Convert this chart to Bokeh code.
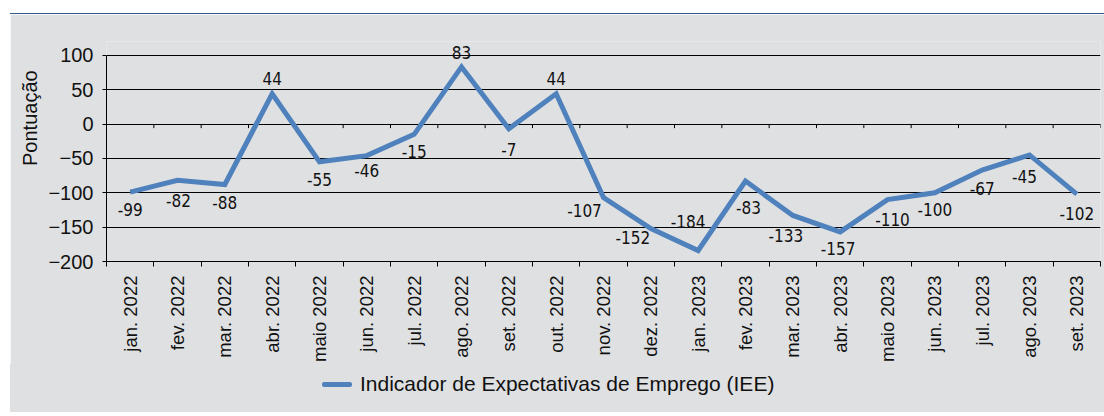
from bokeh.plotting import figure
from bokeh.models import Range1d, FixedTicker, Div, ColumnDataSource, Spacer
from bokeh.layouts import column, row
from bokeh.core.properties import value
from bokeh.embed import file_html
from bokeh.resources import INLINE
import math

# ---- data ----
months = ["jan. 2022", "fev. 2022", "mar. 2022", "abr. 2022", "maio 2022", "jun. 2022",
          "jul. 2022", "ago. 2022", "set. 2022", "out. 2022", "nov. 2022", "dez. 2022",
          "jan. 2023", "fev. 2023", "mar. 2023", "abr. 2023", "maio 2023", "jun. 2023",
          "jul. 2023", "ago. 2023", "set. 2023"]
iee = [-99, -82, -88, 44, -55, -46, -15, 83, -7, 44, -107, -152,
       -184, -83, -133, -157, -110, -100, -67, -45, -102]
y_ticks = [-200, -150, -100, -50, 0, 50, 100]
series_name = "Indicador de Expectativas de Emprego (IEE)"
y_label = "Pontuação"

# label placement (screen pixel offsets, style only)
label_dx = [0, 1, 0, 0, 0, 0, 0, 0, 0, 0, -19, -18, -10, 3, -7, -2, 5, 0, 0, -5, 0]
label_dy = [17, 20, 18, -15, 18, 15, 17, -14, 21, -15, 13, 9, -29, 26, 20, 17, 20, 17, 18, 22, 19]

BG = "#dfe0e2"
LINE = "#4f81bd"
FONT = "Liberation Sans"
NARROW = "DejaVu Sans Condensed, Liberation Sans, sans-serif"
TOP_PAD = 20  # headroom above the 100 gridline so top labels are not clipped

n = len(months)
xs = list(range(n))
bounds = [i - 0.5 for i in range(n + 1)]

p = figure(width=1094, height=350, output_backend="svg", toolbar_location=None,
           x_range=Range1d(-0.5, n - 0.5),
           y_range=Range1d(y_ticks[0], y_ticks[-1] + TOP_PAD),
           min_border_left=96, min_border_right=4, min_border_top=27, min_border_bottom=99,
           background_fill_color=BG, border_fill_color=BG, outline_line_color=None)

# grid
p.xgrid.visible = False
p.ygrid.ticker = FixedTicker(ticks=y_ticks)
p.ygrid.grid_line_color = "#000000"
p.ygrid.grid_line_width = 1

# y axis
p.yaxis.ticker = FixedTicker(ticks=y_ticks)
p.yaxis.bounds = (y_ticks[0], y_ticks[-1])
p.yaxis.axis_label = "\u00a0" * 12 + y_label
p.yaxis.axis_label_text_font = FONT
p.yaxis.axis_label_text_font_size = "20px"
p.yaxis.axis_label_text_font_style = "normal"
p.yaxis.axis_label_text_color = "#111111"
p.yaxis.axis_label_standoff = 4
p.yaxis.major_label_text_font = FONT
p.yaxis.major_label_text_font_size = "20px"
p.yaxis.major_label_text_color = "#111111"
p.yaxis.major_label_standoff = 9
p.yaxis.major_tick_out = 4
p.yaxis.major_tick_in = 0
p.yaxis.minor_tick_out = 0
p.yaxis.minor_tick_in = 0
p.yaxis.axis_line_color = "#000000"
p.yaxis.major_tick_line_color = "#000000"

# x axis
p.xaxis.ticker = FixedTicker(ticks=xs, minor_ticks=bounds)
p.xaxis.major_label_overrides = {i: m for i, m in zip(xs, months)}
p.xaxis.major_label_orientation = math.pi / 2
p.xaxis.major_label_text_font = FONT
p.xaxis.major_label_text_font_size = "18.5px"
p.xaxis.major_label_text_color = "#111111"
p.xaxis.major_label_standoff = 9
p.xaxis.major_tick_out = 0
p.xaxis.major_tick_in = 0
p.xaxis.minor_tick_out = 5
p.xaxis.minor_tick_in = 0
p.xaxis.minor_tick_line_color = "#000000"
p.xaxis.axis_line_color = "#000000"

# zero line ticks (category boundaries)
p.segment(x0=bounds, y0=[0] * len(bounds), x1=bounds, y1=[-6] * len(bounds),
          line_color="#000000", line_width=1)

# series
src = ColumnDataSource(dict(x=xs, y=iee, t=[str(v) for v in iee], dx=label_dx, dy=label_dy))
r = p.line("x", "y", source=src, line_color=LINE, line_width=5, line_join="miter")
p.text("x", "y", text="t", source=src, x_offset="dx", y_offset="dy",
       text_align="center", text_baseline="middle",
       text_font=value(NARROW), text_font_size="17px", text_color="#111111")

top = Div(text="", width=1094, height=14, margin=(0, 0, 0, 0),
          styles={"background-color": "#ffffff", "border-bottom": "1px solid #2f5b85"})

legend_html = (
    '<div style="position:relative;width:1094px;height:48px;">'
    f'<span style="position:absolute;left:312px;top:18px;width:30px;height:5px;'
    f'border-radius:2px;background:{LINE};"></span>'
    f'<span style="position:absolute;left:350px;top:8px;white-space:nowrap;'
    f'font-family:\'{FONT}\';font-size:21px;line-height:23px;color:#111111;">{series_name}</span>'
    '</div>'
)
legend_div = Div(text=legend_html, width=1094, height=48, margin=(0, 0, 0, 0),
                 styles={"background-color": BG})

layout = row(Spacer(width=10, height=10), column(top, p, legend_div, spacing=0), spacing=0)
open("out.html", "w").write(file_html(layout, INLINE))
